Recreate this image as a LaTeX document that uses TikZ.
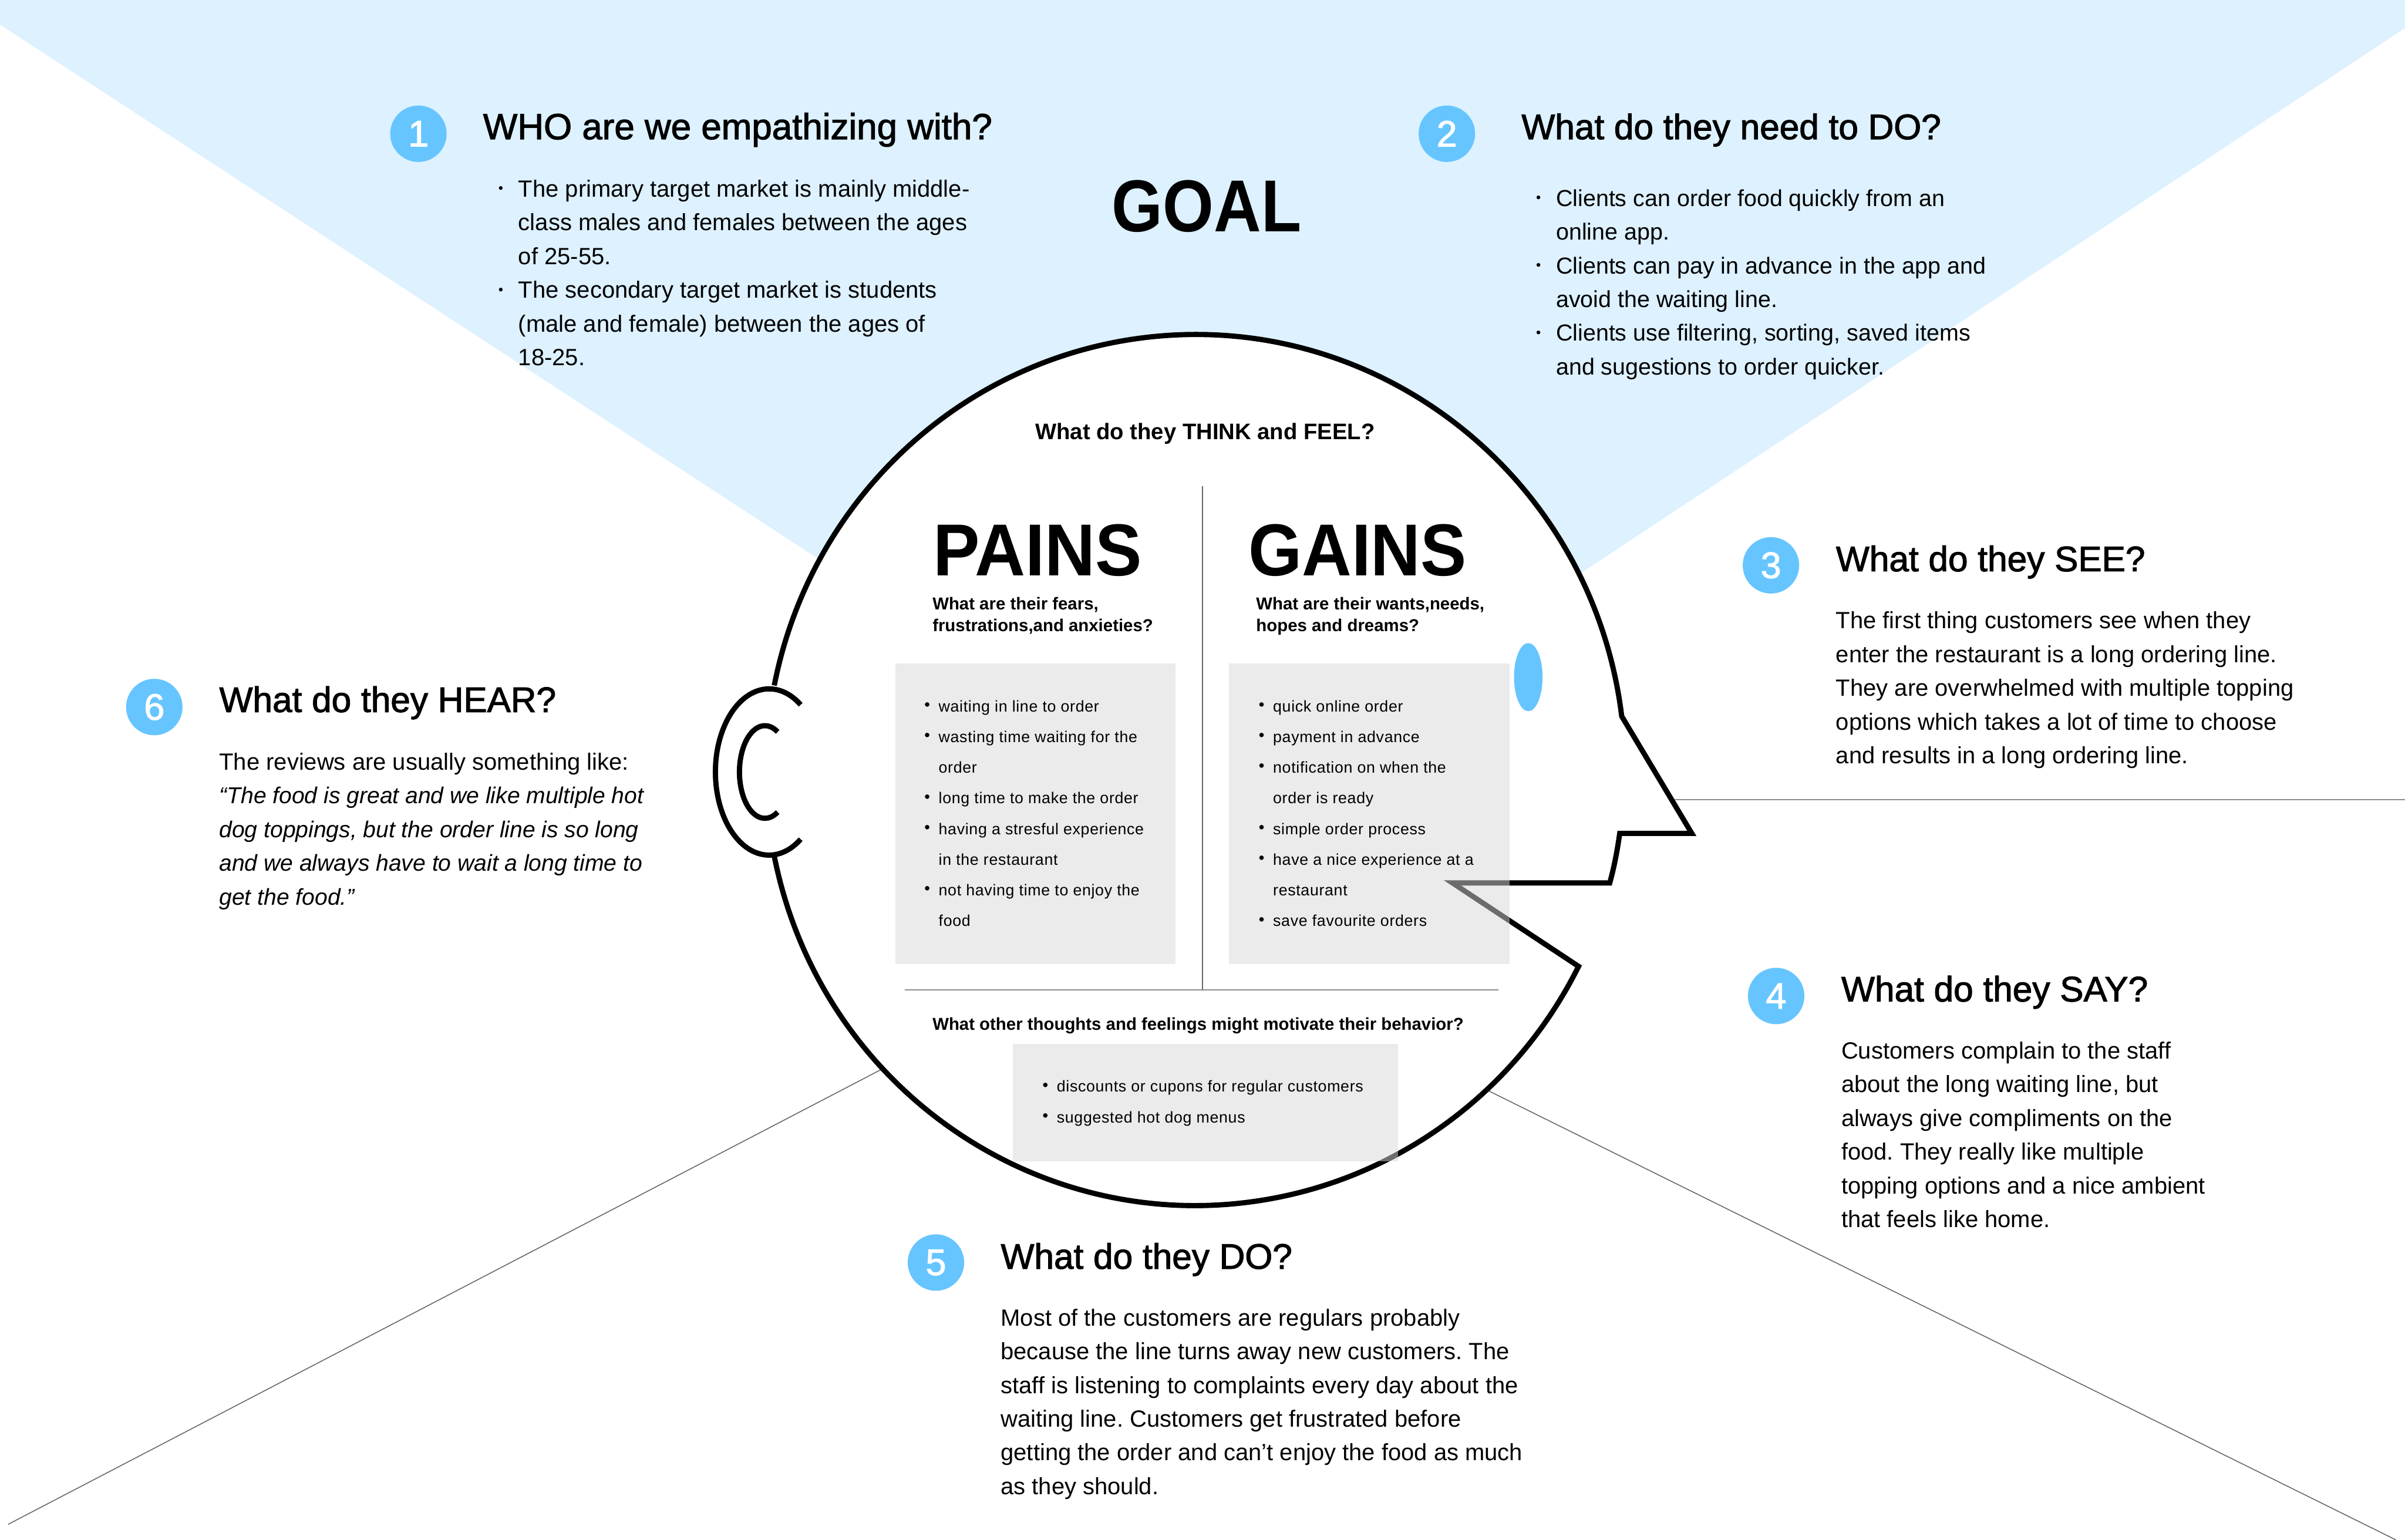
\documentclass[tikz,border=0pt]{standalone}
\usepackage{fontspec}
\usepackage{graphicx}
\setmainfont{Liberation Sans}
\newfontfamily\medfont[FakeBold=1.8]{Liberation Sans}
\newfontfamily\smfont[LetterSpace=2.5]{Liberation Sans}
\definecolor{skyfill}{HTML}{DDF1FF}
\definecolor{badge}{HTML}{66C5FF}
\definecolor{rulegray}{HTML}{8C8C8C}
\definecolor{hairgray}{HTML}{666666}
\definecolor{boxgray}{HTML}{D9D9D9}
\newcommand\blt[1]{\llap{\raisebox{2.5pt}{\fontsize{#1}{#1}\selectfont •}\hspace{9.9pt}}}
\newcommand\sbl{\llap{\raisebox{1pt}{\fontsize{10.5}{10.5}\selectfont •}\hspace{5.6pt}}}
\tikzset{
 x=1pt,y=-1pt,
 txt/.style={inner sep=0pt,outer sep=0pt,anchor=north west,align=left},
 body/.style={txt,font=\frenchspacing\fontsize{15.3}{22}\selectfont},
 bodynarrow/.style={txt,font=\frenchspacing\fontsize{15.1}{22}\selectfont},
 small/.style={txt,font=\smfont\fontsize{10.25}{20}\selectfont},
 heading/.style={txt,font=\medfont\fontsize{23.1}{28}\selectfont},
 headingwide/.style={txt,font=\medfont\fontsize{23.7}{28}\selectfont},
 subhead/.style={txt,font=\bfseries\fontsize{11.25}{14}\selectfont},
 question/.style={txt,font=\bfseries\fontsize{14.65}{18}\selectfont},
 big/.style={txt,font=\bfseries\fontsize{48}{50}\selectfont},
 numbadge/.style={circle,fill=badge,minimum size=36.8pt,inner sep=0pt,text=white,font=\medfont\fontsize{24}{24}\selectfont},
 headline/.style={line width=3.4pt,miter limit=20},
 earline/.style={line width=3.4pt},
 thin/.style={draw=rulegray,line width=0.9pt},
 hair/.style={draw=hairgray,line width=0.6pt},
 panel/.style={fill=boxgray,fill opacity=0.5,draw=none},
}
\begin{document}
\begin{tikzpicture}
\useasboundingbox (0,0) rectangle (1568,1004);
\fill[white] (0,0) rectangle (1568,1004);
% background wedge
\fill[skyfill] (0,0) -- (1568,0) -- (1568,18.3) -- (1025,377.4) -- (780,400) -- (540,368.6) -- (0,16) -- cycle;
% rule lines
\coordinate (sL) at (1090,521.4);\coordinate (sR) at (1568,521.4);
\coordinate (dA) at (970,711);\coordinate (dB) at (1562,1004);
\coordinate (hA) at (574.4,697.4);\coordinate (hB) at (5.3,993.9);
\draw[thin] (sL)--(sR);
\draw[hair] (dA)--(dB);
\draw[hair] (hA)--(hB);
% head
\draw[headline,fill=white] (504.6,557.2)
 arc[start angle=191.2,end angle=333.2,x radius=280pt,y radius=284pt]
 -- (947,575.7) -- (1049.5,575.7)
 .. controls (1052.5,565) and (1054.5,554) .. (1056,543.4)
 -- (1103,543.4) -- (1057.3,467)
 arc[start angle=7.1,end angle=168.8,x radius=280pt,y radius=284pt];
% ear
\draw[earline] (522,459.5) arc[start angle=54,end angle=306,x radius=35pt,y radius=54.2pt];
\draw[earline] (507,477.2) arc[start angle=60,end angle=300,x radius=16.6pt,y radius=30.2pt];
% eye
\fill[badge] (996.4,441.5) ellipse[x radius=9.3pt,y radius=22.2pt];
% dividers
\coordinate (vT) at (784,317);\coordinate (vB) at (784,645.5);
\coordinate (mL) at (590,645.5);\coordinate (mR) at (977,645.5);
\draw[hair] (vT)--(vB);
\draw[thin] (mL)--(mR);
% panels
\fill[panel] (583.6,432.4) rectangle (766.4,628.4);
\fill[panel] (801.4,432.4) rectangle (984.2,628.4);
\fill[panel] (660.3,680.8) rectangle (911.4,757.1);
% titles
\node[big] (goal) at (725,117.5) {\scalebox{0.89}[1]{GOAL}};
\node[big] (pains) at (608.5,342) {\scalebox{0.95}[1]{PAINS}};
\node[big] (gains) at (814,342) {\scalebox{0.935}[1]{GAINS}};
\node[question] (think) at (675,276) {What do they THINK and FEEL?};
\node[subhead] (psub) at (608,389.5) {What are their fears,\\frustrations,and anxieties?};
\node[subhead] (gsub) at (819,389.5) {What are their wants,needs,\\hopes and dreams?};
\node[subhead] (osub) at (608,663.5) {What other thoughts and feelings might motivate their behavior?};
% panel text
\node[small] (plist) at (612,450) {\strut\sbl waiting in line to order\\\sbl wasting time waiting for the\\order\\\sbl long time to make the order\\\sbl having a stresful experience\\in the restaurant\\\sbl not having time to enjoy the\\food};
\node[small] (glist) at (830,450) {\strut\sbl quick online order\\\sbl payment in advance\\\sbl notification on when the\\order is ready\\\sbl simple order process\\\sbl have a nice experience at a\\restaurant\\\sbl save favourite orders};
\node[small] (olist) at (689,698) {\strut\sbl discounts or cupons for regular customers\\\sbl suggested hot dog menus};
% badges
\node[numbadge] (n1) at (272.8,87.2) {1};
\node[numbadge] (n2) at (943.3,87.2) {2};
\node[numbadge] (n3) at (1154.6,368.6) {3};
\node[numbadge] (n4) at (1158,649.4) {4};
\node[numbadge] (n5) at (610.2,823.2) {5};
\node[numbadge] (n6) at (100.6,461) {6};
% headings
\node[headingwide] (h1) at (315,73.6) {WHO are we empathizing with?};
\node[heading] (h2) at (992,74) {What do they need to DO?};
\node[heading] (h3) at (1197,355.7) {What do they SEE?};
\node[heading] (h4) at (1200.5,636.2) {What do they SAY?};
\node[heading] (h5) at (652.5,810.5) {What do they DO?};
\node[heading] (h6) at (143,447.5) {What do they HEAR?};
% body
\node[body] (b1) at (338,113) {\strut\blt{9}The primary target market is mainly middle-\\class males and females between the ages\\of 25-55.\\\blt{9}The secondary target market is students\\(male and female) between the ages of\\18-25.};
\node[bodynarrow] (b2) at (1014.5,119) {\strut\blt{9}Clients can order food quickly from an\\online app.\\\blt{9}Clients can pay in advance in the app and\\avoid the waiting line.\\\blt{9}Clients use filtering, sorting, saved items\\and sugestions to order quicker.};
\node[body] (b3) at (1197,394.5) {\strut The first thing customers see when they\\enter the restaurant is a long ordering line.\\They are overwhelmed with multiple topping\\options which takes a lot of time to choose\\and results in a long ordering line.};
\node[body] (b4) at (1200.5,675) {\strut Customers complain to the staff\\about the long waiting line, but\\always give compliments on the\\food. They really like multiple\\topping options and a nice ambient\\that feels like home.};
\node[body] (b5) at (652.5,849) {\strut Most of the customers are regulars probably\\because the line turns away new customers. The\\staff is listening to complaints every day about the\\waiting line. Customers get frustrated before\\getting the order and can’t enjoy the food as much\\as they should.};
\node[body] (b6) at (143,486.6) {\strut The reviews are usually something like:\\\itshape\fontsize{14.95}{22}\selectfont “The food is great and we like multiple hot\\\itshape\fontsize{14.95}{22}\selectfont dog toppings, but the order line is so long\\\itshape\fontsize{14.95}{22}\selectfont and we always have to wait a long time to\\\itshape\fontsize{14.95}{22}\selectfont get the food.”};
\end{tikzpicture}
\end{document}
